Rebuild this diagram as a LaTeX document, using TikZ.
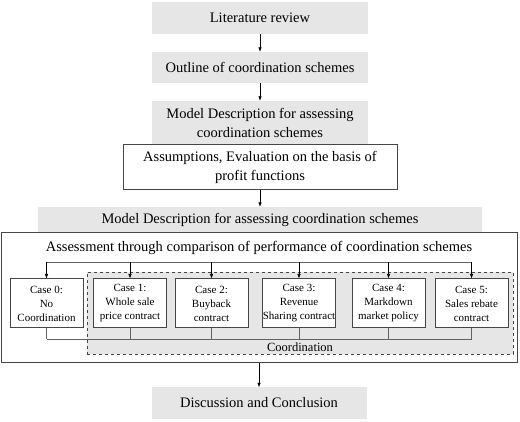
\documentclass[tikz,border=0pt]{standalone}
\usepackage{fontspec}
\setmainfont{Liberation Serif}
\usetikzlibrary{arrows.meta}
\definecolor{boxgray}{RGB}{231,230,230}
\definecolor{edgegray}{RGB}{70,70,70}

\begin{document}
\begin{tikzpicture}[x=1pt, y=-1pt,
    stage/.style={fill=boxgray, inner sep=0pt, align=center,
        font=\fontsize{14.5}{19.5}\selectfont},
    frame/.style={draw=edgegray, line width=1pt, inner sep=0pt},
    casebox/.style={frame, fill=white, minimum width=73pt, minimum height=49pt,
        align=center, font=\fontsize{11}{14}\selectfont},
    arr/.style={black, line width=0.6pt, -{Latex[length=4.5pt,width=3.5pt]}},
    bus/.style={edgegray!85, line width=0.8pt}
]
\useasboundingbox (0,0) rectangle (520,422);

% =========================
% Preparation steps
% =========================
\node[stage, minimum width=216pt, minimum height=32pt] (lit) at (260,18)
    {Literature review};
\node[stage, minimum width=216pt, minimum height=31pt] (outline) at (260,67.5)
    {Outline of coordination schemes};
\node[stage, minimum width=216pt, minimum height=44pt] (model) at (260,123)
    {Model Description for assessing\\coordination schemes};
\node[stage, frame, fill=white, minimum width=274pt, minimum height=45pt] (assume) at (260,167.5)
    {Assumptions, Evaluation on the basis of\\profit functions};
\node[stage, minimum width=444pt, minimum height=26pt] (modeltwo) at (260,220)
    {Model Description for assessing coordination schemes};

% arrows
\draw[arr] (lit) -- (outline);
\draw[arr] (outline) -- (model);
\draw[arr] (assume) -- (modeltwo);

% =========================
% Assessment of the cases
% =========================
\node[frame, fill=white, minimum width=516pt, minimum height=130pt] (assess) at (259,298) {};
\node[font=\fontsize{14.5}{17}\selectfont] (assesslbl) at (259,248)
    {Assessment through comparison of performance of coordination schemes};

% coordination group
\node[draw=edgegray, dashed, line width=0.9pt, fill=boxgray,
    minimum width=426pt, minimum height=82pt] (coord) at (300,313) {};
\node[font=\fontsize{12.5}{15}\selectfont] (coordlbl) at (300,347) {Coordination};

% cases
\foreach \i/\x/\txt in {0/46.5/{Case 0:\\No\\Coordination},
        1/130/{Case 1:\\Whole sale\\price contract},
        2/211.5/{Case 2:\\Buyback\\contract},
        3/299/{Case 3:\\Revenue\\Sharing contract},
        4/388.5/{Case 4:\\Markdown\\market policy},
        5/471.5/{Case 5:\\Sales rebate\\contract}}
    \node[casebox] (c\i) at (\x,303.5) {\txt};

% split and join lines
\coordinate (busin) at (0,262);
\coordinate (busout) at (0,339);
\draw[bus] (c0.north |- busin) -- (c5.north |- busin);
\foreach \i in {0,...,5}
    \draw[arr] (c\i.north |- busin) -- (c\i.north);
\draw[bus] (c0.south |- busout) -- (c5.south |- busout);
\foreach \i in {0,...,5}
    \draw[bus] (c\i.south) -- (c\i.south |- busout);

% =========================
% Conclusion
% =========================
\node[stage, minimum width=215pt, minimum height=31pt] (concl) at (259,403)
    {Discussion and Conclusion};
\draw[arr] (assess) -- (concl);

\end{tikzpicture}
\end{document}
